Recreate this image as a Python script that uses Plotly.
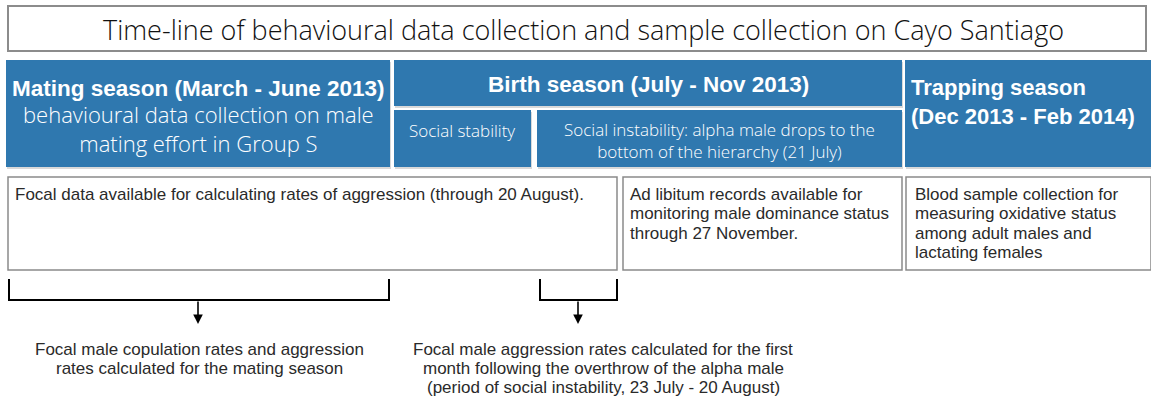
import plotly.graph_objects as go

W, H = 1151, 403

title_text = "Time-line of behavioural data collection and sample collection on Cayo Santiago"

blue_boxes = [
    (6, 60, 390, 167),
    (394, 60, 902, 106),
    (394, 110, 531, 167),
    (537, 110, 902, 167),
    (905, 60, 1151, 167),
]
mating_head = "Mating season (March - June 2013)"
mating_sub = ["behavioural data collection on male", "mating effort in Group S"]
birth_head = "Birth season (July - Nov 2013)"
stability_text = "Social stability"
instability_lines = ["Social instability: alpha male drops to the",
                     "bottom of the hierarchy (21 July)"]
trapping_lines = ["Trapping season", "(Dec 2013 - Feb 2014)"]

white_boxes = [
    (8, 177, 617, 270),
    (623, 177, 902, 270),
    (906, 177, 1151, 270),
]
white_lines = [
    ["Focal data available for calculating rates of aggression (through 20 August)."],
    ["Ad libitum records available for", "monitoring male dominance status",
     "through 27 November."],
    ["Blood sample collection for", "measuring oxidative status",
     "among adult males and", "lactating females"],
]
bottom_lines = [
    ["Focal male copulation rates and aggression",
     "rates calculated for the mating season"],
    ["Focal male aggression rates calculated for the first",
     "month following the overthrow of the alpha male",
     "(period of social instability, 23 July - 20 August)"],
]
brackets = [(9, 389), (540, 617)]
arrow_x = [198, 578]

BLUE = "#2f78af"
LIGHT = "Open Sans"
BOLD = "Liberation Sans"
SANS = "Liberation Sans"
DARK = "#2a2a2a"

shapes = []
annotations = []


def ann(x, y, text, size, family, weight=400, color="white", xanchor="center",
        align="center", yanchor="middle"):
    annotations.append(dict(x=x, y=y, text=text, showarrow=False,
                            font=dict(family=family, size=size, color=color, weight=weight),
                            xanchor=xanchor, yanchor=yanchor, align=align))


def lines(x, y0, dy, texts, size, family, weight=400, color="white", xanchor="center"):
    for i, t in enumerate(texts):
        ann(x, y0 + i * dy, t, size, family, weight, color, xanchor)


# title box
shapes.append(dict(type="rect", x0=8, y0=6, x1=1146, y1=51,
                   line=dict(color="#8c8c8c", width=2), fillcolor="white"))
ann(583, 29.5, title_text, 27, LIGHT, 300, "#111")

# blue boxes with subtle shadow
for (x0, y0, x1, y1) in blue_boxes:
    shapes.append(dict(type="rect", x0=x0 + 1, y0=y0 + 2, x1=x1 + 1, y1=y1 + 2,
                       line=dict(width=0), fillcolor="rgba(0,0,0,0.15)", layer="below"))
for (x0, y0, x1, y1) in blue_boxes:
    shapes.append(dict(type="rect", x0=x0, y0=y0, x1=x1, y1=y1,
                       line=dict(width=0), fillcolor=BLUE))

ann(198, 88, "<b>" + mating_head + "</b>", 22.5, BOLD)
ann(198, 128, "<br>".join(mating_sub), 22, LIGHT, 300)
ann(648, 84, "<b>" + birth_head + "</b>", 22.5, BOLD)
ann(462, 130, stability_text, 17, LIGHT, 300)
ann(719, 140, "<br>".join(instability_lines), 17, LIGHT, 300)
ann(909, 101.5, "<b>" + "<br>".join(trapping_lines) + "</b>", 22, BOLD,
    xanchor="left", align="left")

# white boxes
for (x0, y0, x1, y1) in white_boxes:
    shapes.append(dict(type="rect", x0=x0, y0=y0, x1=x1, y1=y1,
                       line=dict(color="#8a8a8a", width=1.5), fillcolor="white"))
lines(13, 194, 19.5, white_lines[0], 17, SANS, color=DARK, xanchor="left")
lines(628, 194, 19.5, white_lines[1], 17, SANS, color=DARK, xanchor="left")
lines(913, 194, 19.5, white_lines[2], 17, SANS, color=DARK, xanchor="left")

# brackets
for (bx0, bx1) in brackets:
    shapes.append(dict(type="path",
                       path=f"M {bx0},279 L {bx0},300 L {bx1},300 L {bx1},279",
                       line=dict(color="black", width=2)))

# arrows
for ax_ in arrow_x:
    annotations.append(dict(x=ax_, y=324, ax=ax_, ay=300, axref="x", ayref="y",
                            xref="x", yref="y", showarrow=True, arrowhead=2,
                            arrowsize=1.2, arrowwidth=1.6, arrowcolor="black", text=""))

# bottom texts
lines(199, 349, 19.5, bottom_lines[0], 17, SANS, color=DARK)
lines(603, 349, 19, bottom_lines[1], 17, SANS, color=DARK)

fig = go.Figure()
fig.update_layout(
    width=W, height=H,
    margin=dict(l=0, r=0, t=0, b=0),
    paper_bgcolor="white", plot_bgcolor="white",
    xaxis=dict(range=[0, W], visible=False, fixedrange=True),
    yaxis=dict(range=[H, 0], visible=False, fixedrange=True),
    shapes=shapes, annotations=annotations, showlegend=False,
)
fig.write_html("out.html", config={"displayModeBar": False},
               post_script="document.body.style.margin='0';document.body.style.overflow='hidden';")
